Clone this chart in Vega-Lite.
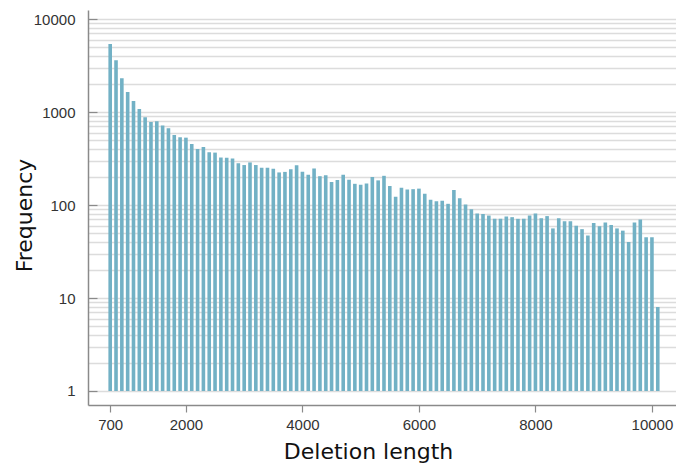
{
  "$schema": "https://vega.github.io/schema/vega-lite/v6.json",
  "width": 588,
  "height": 395,
  "autosize": {"type": "none"},
  "padding": {"left": 88, "top": 10, "right": 0, "bottom": 60},
  "background": "white",
  "config": {"view": {"stroke": null}},
  "data": {
    "values": [
      {"length": 700, "count": 5400}, {"length": 800, "count": 3600}, {"length": 900, "count": 2300},
      {"length": 1000, "count": 1640}, {"length": 1100, "count": 1310}, {"length": 1200, "count": 1080},
      {"length": 1300, "count": 880}, {"length": 1400, "count": 780}, {"length": 1500, "count": 795},
      {"length": 1600, "count": 715}, {"length": 1700, "count": 668}, {"length": 1800, "count": 566},
      {"length": 1900, "count": 535}, {"length": 2000, "count": 530}, {"length": 2100, "count": 452},
      {"length": 2200, "count": 400}, {"length": 2300, "count": 421}, {"length": 2400, "count": 369},
      {"length": 2500, "count": 366}, {"length": 2600, "count": 324}, {"length": 2700, "count": 323},
      {"length": 2800, "count": 317}, {"length": 2900, "count": 281}, {"length": 3000, "count": 269},
      {"length": 3100, "count": 287}, {"length": 3200, "count": 269}, {"length": 3300, "count": 252},
      {"length": 3400, "count": 252}, {"length": 3500, "count": 246}, {"length": 3600, "count": 224},
      {"length": 3700, "count": 227}, {"length": 3800, "count": 242}, {"length": 3900, "count": 267},
      {"length": 4000, "count": 228}, {"length": 4100, "count": 212}, {"length": 4200, "count": 247},
      {"length": 4300, "count": 204}, {"length": 4400, "count": 209}, {"length": 4500, "count": 177},
      {"length": 4600, "count": 186}, {"length": 4700, "count": 211}, {"length": 4800, "count": 187},
      {"length": 4900, "count": 169}, {"length": 5000, "count": 165}, {"length": 5100, "count": 170},
      {"length": 5200, "count": 200}, {"length": 5300, "count": 184}, {"length": 5400, "count": 206},
      {"length": 5500, "count": 160}, {"length": 5600, "count": 123}, {"length": 5700, "count": 153},
      {"length": 5800, "count": 147}, {"length": 5900, "count": 148}, {"length": 6000, "count": 150},
      {"length": 6100, "count": 132}, {"length": 6200, "count": 114}, {"length": 6300, "count": 110},
      {"length": 6400, "count": 111}, {"length": 6500, "count": 103}, {"length": 6600, "count": 145},
      {"length": 6700, "count": 118}, {"length": 6800, "count": 101}, {"length": 6900, "count": 90},
      {"length": 7000, "count": 81}, {"length": 7100, "count": 80}, {"length": 7200, "count": 77},
      {"length": 7300, "count": 71}, {"length": 7400, "count": 71}, {"length": 7500, "count": 75},
      {"length": 7600, "count": 74}, {"length": 7700, "count": 71}, {"length": 7800, "count": 71},
      {"length": 7900, "count": 77}, {"length": 8000, "count": 81}, {"length": 8100, "count": 72},
      {"length": 8200, "count": 76}, {"length": 8300, "count": 56}, {"length": 8400, "count": 72},
      {"length": 8500, "count": 67}, {"length": 8600, "count": 67}, {"length": 8700, "count": 60},
      {"length": 8800, "count": 55}, {"length": 8900, "count": 47}, {"length": 9000, "count": 64},
      {"length": 9100, "count": 59}, {"length": 9200, "count": 65}, {"length": 9300, "count": 61},
      {"length": 9400, "count": 56}, {"length": 9500, "count": 53}, {"length": 9600, "count": 40},
      {"length": 9700, "count": 65}, {"length": 9800, "count": 70}, {"length": 9900, "count": 45},
      {"length": 10000, "count": 45}, {"length": 10100, "count": 8}
    ]
  },
  "mark": {"type": "bar", "size": 3.6, "color": "#72b1c5"},
  "encoding": {
    "x": {
      "field": "length",
      "type": "quantitative",
      "scale": {"domain": [319, 10413], "nice": false, "zero": false, "padding": 0},
      "axis": {
        "title": "Deletion length",
        "values": [700, 2000, 4000, 6000, 8000, 10000],
        "format": "d",
        "grid": false,
        "domainColor": "#8a8a8a",
        "domainWidth": 1.5,
        "tickColor": "#8a8a8a",
        "tickWidth": 1.2,
        "tickSize": 7,
        "labelPadding": 5,
        "labelFont": "Liberation Sans",
        "labelFontSize": 15,
        "labelColor": "#333333",
        "labelFlush": false,
        "titleFont": "DejaVu Sans",
        "titleFontSize": 22,
        "titleFontWeight": "normal",
        "titleColor": "#111111",
        "titleX": 280,
        "titleY": 53,
        "titleAnchor": null,
        "titleAlign": "center",
        "titleBaseline": "alphabetic"
      }
    },
    "y": {
      "field": "count",
      "type": "quantitative",
      "scale": {"type": "log", "domain": [0.707, 12500], "nice": false},
      "axis": {
        "title": "Frequency",
        "values": [1, 2, 3, 4, 5, 6, 7, 8, 9, 10, 20, 30, 40, 50, 60, 70, 80, 90, 100, 200, 300, 400, 500, 600, 700, 800, 900, 1000, 2000, 3000, 4000, 5000, 6000, 7000, 8000, 9000, 10000],
        "labelExpr": "indexof([1, 10, 100, 1000, 10000], datum.value) >= 0 ? format(datum.value, 'd') : ''",
        "grid": true,
        "gridColor": "#dcdcdc",
        "gridWidth": 1.3,
        "domainColor": "#8a8a8a",
        "domainWidth": 1.5,
        "tickSize": -9,
        "tickWidth": 1.2,
        "tickColor": {"condition": {"test": "indexof([1, 10, 100, 1000, 10000], datum.value) >= 0", "value": "#8a8a8a"}, "value": "transparent"},
        "labelPadding": 22,
        "labelFont": "Liberation Sans",
        "labelFontSize": 15,
        "labelColor": "#333333",
        "labelFlush": false,
        "labelOverlap": false,
        "titleFont": "DejaVu Sans",
        "titleFontSize": 22,
        "titleFontWeight": "normal",
        "titleColor": "#111111",
        "titleX": -64,
        "titleY": 205,
        "titleAngle": -90,
        "titleAnchor": null,
        "titleAlign": "center",
        "titleBaseline": "middle"
      }
    },
    "y2": {"datum": 1}
  }
}
